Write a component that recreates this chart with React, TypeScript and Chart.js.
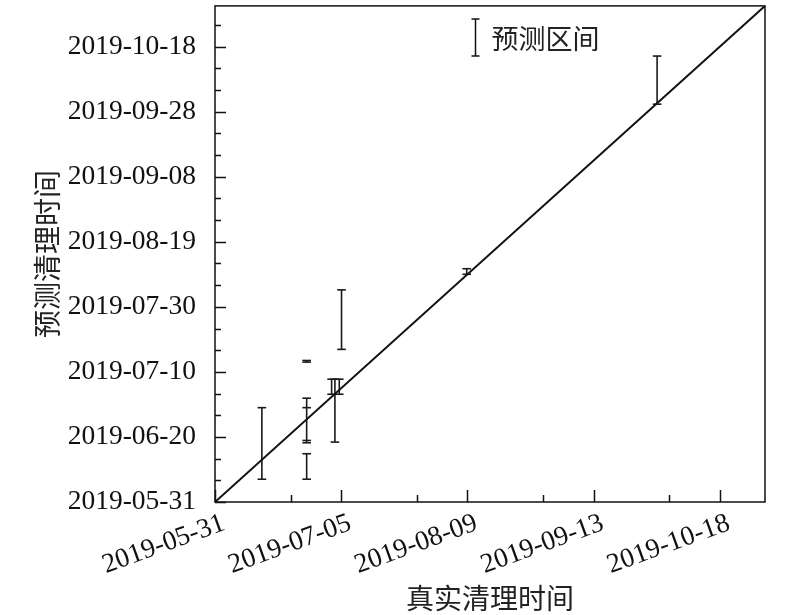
import React, { useEffect, useRef } from "react";
import { Chart, registerables } from "chart.js";

Chart.register(...registerables);

// ---- data ----
const axisStart = "2019-05-31";
const axisEnd = "2019-10-30T12:00:00Z";

const xTickLabels = ["2019-05-31", "2019-07-05", "2019-08-09", "2019-09-13", "2019-10-18"];
const xMinorTickLabels = ["2019-06-21", "2019-07-26", "2019-08-30", "2019-10-04"];
const yTickLabels = [
  "2019-05-31", "2019-06-20", "2019-07-10", "2019-07-30",
  "2019-08-19", "2019-09-08", "2019-09-28", "2019-10-18",
];

// real clearing time (x) and predicted interval (low/high, y)
const actualTimes = [
  "2019-06-13",
  "2019-06-25T10:00:00Z",
  "2019-06-25T10:00:00Z",
  "2019-06-25T10:00:00Z",
  "2019-06-25T10:00:00Z",
  "2019-07-02T08:00:00Z",
  "2019-07-03T06:00:00Z",
  "2019-07-04T11:00:00Z",
  "2019-07-05T02:00:00Z",
  "2019-08-08T19:00:00Z",
  "2019-09-30T14:00:00Z",
];
const predLow = [
  "2019-06-07",
  "2019-06-18T05:00:00Z",
  "2019-06-18T22:00:00Z",
  "2019-06-07",
  "2019-07-13T00:00:00Z",
  "2019-07-03T03:00:00Z",
  "2019-06-18T10:00:00Z",
  "2019-07-03T03:00:00Z",
  "2019-07-16T22:00:00Z",
  "2019-08-09",
  "2019-09-30T07:00:00Z",
];
const predHigh = [
  "2019-06-29",
  "2019-07-01T22:00:00Z",
  "2019-06-29",
  "2019-06-14T20:00:00Z",
  "2019-07-13T12:00:00Z",
  "2019-07-07T18:00:00Z",
  "2019-07-07T18:00:00Z",
  "2019-07-07T18:00:00Z",
  "2019-08-04T05:00:00Z",
  "2019-08-10T17:00:00Z",
  "2019-10-15T02:00:00Z",
];

// reference line y = x
const diagonal = [axisStart, axisEnd];

const xTitle = "真实清理时间";
const yTitle = "预测清理时间";
const legendLabel = "预测区间";

// ---- helpers ----
const DAY = 86400000;
const parseT = (s: string) => Date.parse(s.length === 10 ? s + "T00:00:00Z" : s);
const T0 = parseT(axisStart);
const toDay = (s: string) => (parseT(s) - T0) / DAY;

const xMajor = xTickLabels.map(toDay);
const xMinor = xMinorTickLabels.map(toDay);
const yMajor = yTickLabels.map(toDay);
const axisMax = toDay(axisEnd);

const INK = "#111111";
const TICK_FONT = { family: "'Liberation Serif', 'Times New Roman', serif", size: 27.5 };
const CJK = "'Noto Sans CJK SC', 'Noto Sans', sans-serif";

const decorPlugin = {
  id: "decor",
  afterDatasetsDraw(chart: any) {
    const { ctx, chartArea: a, scales } = chart;
    const x = scales.x;
    const y = scales.y;
    ctx.save();
    ctx.strokeStyle = INK;
    ctx.lineWidth = 1.5;
    ctx.strokeRect(a.left, a.top, a.right - a.left, a.bottom - a.top);
    ctx.beginPath();
    xMajor.forEach((d) => {
      const px = Math.round(x.getPixelForValue(d)) + 0.5;
      ctx.moveTo(px, a.bottom);
      ctx.lineTo(px, a.bottom - 12);
    });
    xMinor.forEach((d) => {
      const px = Math.round(x.getPixelForValue(d)) + 0.5;
      ctx.moveTo(px, a.bottom);
      ctx.lineTo(px, a.bottom - 7);
    });
    const yMinor: number[] = [];
    const step = yMajor[1] - yMajor[0];
    yMajor.forEach((d) => {
      [1, 2].forEach((k) => {
        const v = d + (step * k) / 3;
        if (v < axisMax) yMinor.push(v);
      });
    });
    yMajor.forEach((d) => {
      const py = Math.round(y.getPixelForValue(d)) + 0.5;
      ctx.moveTo(a.left, py);
      ctx.lineTo(a.left + 11, py);
    });
    yMinor.forEach((d) => {
      const py = Math.round(y.getPixelForValue(d)) + 0.5;
      ctx.moveTo(a.left, py);
      ctx.lineTo(a.left + 6, py);
    });
    ctx.stroke();

    // legend
    const lx = a.left + 260.5;
    const ly1 = a.top + 13;
    const ly2 = a.top + 50;
    ctx.beginPath();
    ctx.moveTo(lx, ly1);
    ctx.lineTo(lx, ly2);
    ctx.moveTo(lx - 4, ly1);
    ctx.lineTo(lx + 4, ly1);
    ctx.moveTo(lx - 4, ly2);
    ctx.lineTo(lx + 4, ly2);
    ctx.stroke();
    ctx.fillStyle = "#222";
    ctx.font = `27px ${CJK}`;
    ctx.textAlign = "left";
    ctx.textBaseline = "middle";
    ctx.fillText(legendLabel, lx + 16, (ly1 + ly2) / 2 + 1);
    ctx.restore();
  },
};

export default function App() {
  const ref = useRef<HTMLCanvasElement>(null);

  useEffect(() => {
    if (!ref.current) return;
    const errData: any[] = [];
    actualTimes.forEach((t, i) => {
      const xv = toDay(t);
      errData.push({ x: xv, y: toDay(predLow[i]) });
      errData.push({ x: xv, y: toDay(predHigh[i]) });
      errData.push({ x: xv, y: null });
    });
    const diagData = diagonal.map((d) => ({ x: toDay(d), y: toDay(d) }));

    const chart = new Chart(ref.current, {
      type: "scatter",
      data: {
        datasets: [
          {
            label: "y=x",
            data: diagData,
            showLine: true,
            borderColor: INK,
            borderWidth: 2,
            pointRadius: 0,
          },
          {
            label: legendLabel,
            data: errData,
            showLine: true,
            spanGaps: false,
            borderColor: "#1a1a1a",
            borderWidth: 1.6,
            pointStyle: "line",
            pointRadius: 4.3,
            pointBorderWidth: 1.6,
            pointBorderColor: "#1a1a1a",
          },
        ],
      },
      options: {
        responsive: false,
        animation: false,
        events: [],
        layout: { padding: { left: 0, top: 2, right: 35, bottom: 0 } },
        plugins: { legend: { display: false }, tooltip: { enabled: false } },
        scales: {
          x: {
            type: "linear",
            min: 0,
            max: axisMax,
            grid: { display: false },
            border: { display: false },
            afterBuildTicks: (s: any) => {
              s.ticks = xMajor.map((v) => ({ value: v }));
            },
            afterFit: (s: any) => {
              s.height = 113;
              s.paddingLeft = 0;
              s.paddingRight = 0;
            },
            ticks: {
              autoSkip: false,
              minRotation: 20,
              maxRotation: 20,
              padding: -3,
              labelOffset: 9,
              color: INK,
              font: TICK_FONT,
              callback: (v: any) => {
                const i = xMajor.findIndex((m) => Math.abs(m - v) < 1e-6);
                return i >= 0 ? xTickLabels[i] : "";
              },
            },
            title: {
              display: true,
              text: xTitle,
              color: "#222",
              font: { family: CJK, size: 28 },
              padding: { top: 0, bottom: 0 },
            },
          },
          y: {
            type: "linear",
            min: 0,
            max: axisMax,
            grid: { display: false },
            border: { display: false },
            afterBuildTicks: (s: any) => {
              s.ticks = yMajor.map((v) => ({ value: v }));
            },
            afterFit: (s: any) => {
              s.width = 215;
              s.paddingTop = 0;
              s.paddingBottom = 0;
            },
            ticks: {
              autoSkip: false,
              padding: 11,
              color: INK,
              font: TICK_FONT,
              callback: (v: any) => {
                const i = yMajor.findIndex((m) => Math.abs(m - v) < 1e-6);
                return i >= 0 ? yTickLabels[i] : "";
              },
            },
            title: {
              display: true,
              text: yTitle,
              color: "#222",
              font: { family: CJK, size: 28 },
              padding: { top: 31, bottom: 0 },
            },
          },
        },
      },
      plugins: [decorPlugin],
    });
    return () => chart.destroy();
  }, []);

  return (
    <canvas
      ref={ref}
      width={800}
      height={615}
      style={{ position: "absolute", left: 0, top: 0, display: "block", background: "#fff" }}
    />
  );
}
